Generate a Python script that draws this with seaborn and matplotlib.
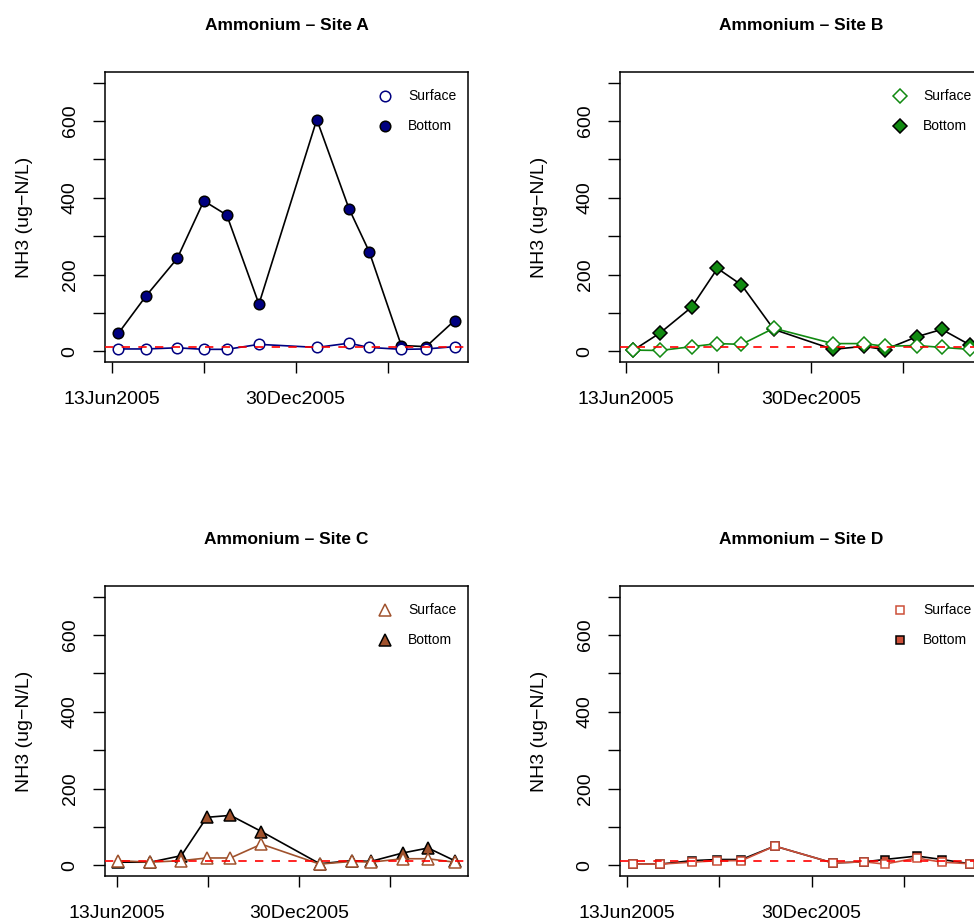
import pandas as pd
import numpy as np
import matplotlib
matplotlib.use("Agg")
import matplotlib.pyplot as plt
from matplotlib.lines import Line2D
import seaborn as sns

# sample dates per site
dates_a = ["2005-06-20", "2005-07-20", "2005-08-23", "2005-09-21", "2005-10-16", "2005-11-20",
           "2006-01-22", "2006-02-26", "2006-03-20", "2006-04-24", "2006-05-21", "2006-06-21"]
dates_b = ["2005-06-21", "2005-07-20", "2005-08-23", "2005-09-20", "2005-10-16", "2005-11-20",
           "2006-01-23", "2006-02-26", "2006-03-20", "2006-04-24", "2006-05-21", "2006-06-20"]
dates_c = ["2005-06-15", "2005-07-20", "2005-08-23", "2005-09-20", "2005-10-16", "2005-11-19",
           "2006-01-22", "2006-02-26", "2006-03-19", "2006-04-23", "2006-05-21", "2006-06-19"]
dates_d = ["2005-06-20", "2005-07-19", "2005-08-22", "2005-09-19", "2005-10-15", "2005-11-20",
           "2006-01-22", "2006-02-25", "2006-03-19", "2006-04-23", "2006-05-20", "2006-06-19"]

# NH3 (ug-N/L)
surface_a = [6, 6, 9, 5, 5, 18, 10, 21, 10, 5, 6, 12]
bottom_a = [47, 144, 242, 392, 355, 123, 604, 372, 260, 15, 12, 80]
surface_b = [3, 2, 12, 20, 18, 60, 20, 20, 13, 15, 10, 5]
bottom_b = [3, 48, 115, 216, 173, 57, 5, 13, 4, 38, 57, 17]
surface_c = [12, 8, 12, 19, 19, 55, 3, 10, 8, 17, 17, 8]
bottom_c = [8, 8, 25, 125, 130, 88, 4, 12, 10, 32, 45, 12]
surface_d = [3, 3, 8, 12, 12, 50, 6, 9, 3, 19, 8, 4]
bottom_d = [3, 3, 12, 15, 15, 50, 6, 9, 15, 24, 15, 4]

sites = ["A", "B", "C", "D"]
site_colors = ["#000080", "#118A11", "#A0522D", "#CD4F39"]
site_markers = ["o", "D", "^", "s"]
marker_sizes = [7.6, 7.0, 8.8, 6.4]
reference_level = 10

tick_dates = ["2005-06-13", "2005-09-21", "2005-12-30", "2006-04-09"]
tick_labels = ["13Jun2005", "", "30Dec2005", ""]

sns.set_style("ticks")
plt.rcParams["font.family"] = ["Liberation Sans", "DejaVu Sans"]
plt.rcParams["text.color"] = "black"
plt.rcParams["axes.labelcolor"] = "black"

fig = plt.figure(figsize=(9.74, 9.24), dpi=100)
W, H = 974, 924
boxes = [(105, 72), (620, 72), (105, 586), (620, 586)]
box_w, box_h = 363, 290

all_dates = [dates_a, dates_b, dates_c, dates_d]
all_surface = [surface_a, surface_b, surface_c, surface_d]
all_bottom = [bottom_a, bottom_b, bottom_c, bottom_d]

for i, site in enumerate(sites):
    left, top = boxes[i]
    ax = fig.add_axes([left / W, 1 - (top + box_h) / H, box_w / W, box_h / H])
    col = site_colors[i]
    mk = site_markers[i]
    ms = marker_sizes[i]
    df = pd.DataFrame({
        "date": pd.to_datetime(all_dates[i]),
        "surface": all_surface[i],
        "bottom": all_bottom[i],
    })

    sns.lineplot(data=df, x="date", y="bottom", ax=ax, color="black", lw=1.2,
                 marker=mk, markersize=ms, markerfacecolor=col,
                 markeredgecolor="black", markeredgewidth=1.1, legend=False)
    sns.lineplot(data=df, x="date", y="surface", ax=ax, color=col, lw=1.2,
                 marker=mk, markersize=ms, markerfacecolor="white",
                 markeredgecolor=col, markeredgewidth=1.1, legend=False)
    ax.axhline(reference_level, color="red", ls=(0, (5, 5)), lw=1.2, zorder=5)

    # R-style 4% padding
    span = df["date"].max() - df["date"].min()
    ax.set_xlim(df["date"].min() - 0.04 * span, df["date"].max() + 0.04 * span)
    ax.set_ylim(-28, 728)

    ax.set_xticks(pd.to_datetime(tick_dates))
    ax.set_xticklabels(tick_labels, fontsize=14, color="black")
    yt = list(range(0, 701, 100))
    ax.set_yticks(yt)
    ax.set_yticklabels([str(v) if v % 200 == 0 else "" for v in yt],
                       rotation=90, va="center", fontsize=14, color="black")
    ax.tick_params(axis="x", direction="out", length=8, width=1, pad=13, colors="black")
    ax.tick_params(axis="y", direction="out", length=9, width=1, pad=10, colors="black")

    for sp in ax.spines.values():
        sp.set_visible(True)
        sp.set_color("black")
        sp.set_linewidth(1.1)

    ax.set_xlabel("")
    ax.set_ylabel("NH3 (ug\u2212N/L)", fontsize=14, color="black")
    ax.yaxis.set_label_coords(-0.198, 0.5)
    ax.set_title(f"Ammonium \u2013 Site {site}", fontsize=12.5, fontweight="bold",
                 pad=30, color="black")

    handles = [
        Line2D([], [], ls="none", marker=mk, markersize=ms, markerfacecolor="white",
               markeredgecolor=col, markeredgewidth=1.1),
        Line2D([], [], ls="none", marker=mk, markersize=ms, markerfacecolor=col,
               markeredgecolor="black", markeredgewidth=1.1),
    ]
    leg = ax.legend(handles, ["Surface", "Bottom"], loc="upper left",
                    bbox_to_anchor=(0.752, 0.94), frameon=False, fontsize=10,
                    handlelength=1.0, handletextpad=1.15, labelspacing=1.15,
                    borderpad=0, borderaxespad=0)
    for t in leg.get_texts():
        t.set_color("black")

fig.savefig("out.png", dpi=100)
